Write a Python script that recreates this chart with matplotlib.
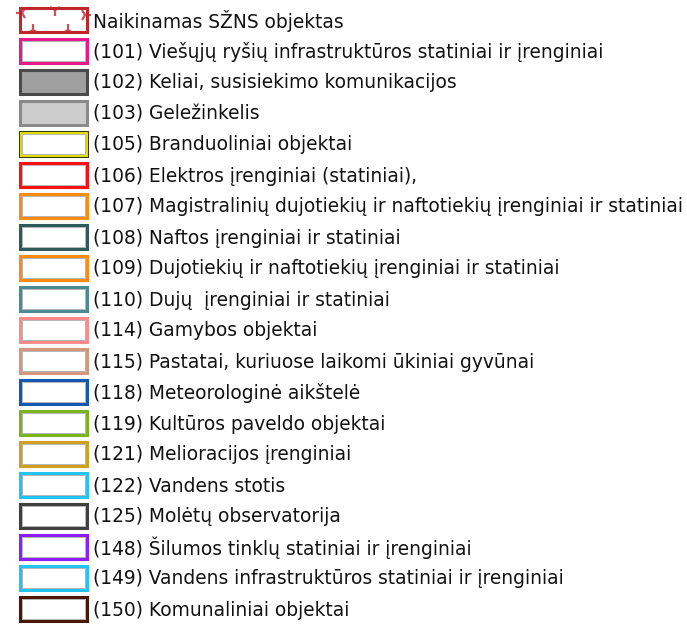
import matplotlib.pyplot as plt
from matplotlib.patches import Rectangle

# legend entries: label, edge colour, fill colour
labels = [
    "Naikinamas SŽNS objektas",
    "(101) Viešųjų ryšių infrastruktūros statiniai ir įrenginiai",
    "(102) Keliai, susisiekimo komunikacijos",
    "(103) Geležinkelis",
    "(105) Branduoliniai objektai",
    "(106) Elektros įrenginiai (statiniai),",
    "(107) Magistralinių dujotiekių ir naftotiekių įrenginiai ir statiniai",
    "(108) Naftos įrenginiai ir statiniai",
    "(109) Dujotiekių ir naftotiekių įrenginiai ir statiniai",
    "(110) Dujų  įrenginiai ir statiniai",
    "(114) Gamybos objektai",
    "(115) Pastatai, kuriuose laikomi ūkiniai gyvūnai",
    "(118) Meteorologinė aikštelė",
    "(119) Kultūros paveldo objektai",
    "(121) Melioracijos įrenginiai",
    "(122) Vandens stotis",
    "(125) Molėtų observatorija",
    "(148) Šilumos tinklų statiniai ir įrenginiai",
    "(149) Vandens infrastruktūros statiniai ir įrenginiai",
    "(150) Komunaliniai objektai",
]
edge_colors = [
    "#c0272d", "#e8198b", "#4a4a4a", "#8a8a8a", "#e0dc00", "#ff1010",
    "#ff8a10", "#2e5a5a", "#ff8a10", "#4a8a90", "#ff8a8a", "#d4967c",
    "#1458b0", "#7ab41e", "#d0a020", "#20c4f4", "#404040", "#8c1eff",
    "#20c4f4", "#4a1808",
]
fill_colors = ["white", "white", "#a0a0a0", "#cccccc"] + ["white"] * 16

fig = plt.figure(figsize=(6.87, 6.30), dpi=100)
ax = fig.add_axes([0, 0, 1, 1])
ax.set_xlim(0, 687)
ax.set_ylim(630, 0)
ax.axis("off")

x0, w, h = 20, 67, 24
y_first, step = 20, 31

for i, (lab, ec, fc) in enumerate(zip(labels, edge_colors, fill_colors)):
    yc = y_first + i * step
    if i == 4:
        ax.add_patch(Rectangle((x0 - 1.3, yc - h / 2 - 1.3), w + 2.6, h + 2.6,
                               facecolor="none", edgecolor="#303010",
                               linewidth=0.7, zorder=3))
    ax.add_patch(Rectangle((x0, yc - h / 2), w, h, facecolor=fc,
                           edgecolor=ec, linewidth=2.2, zorder=2))
    if fc == "white" and i > 0:
        # thin grey inner line like the source legend
        ax.add_patch(Rectangle((x0 + 2, yc - h / 2 + 2), w - 4, h - 4,
                               facecolor="none", edgecolor="#b4b4b4",
                               linewidth=0.7, zorder=3))
    ax.text(93, yc + 1, lab, fontsize=13.4, family="DejaVu Sans",
            va="center", ha="left", color="#111111")

# star-like marks on the first (destroyed object) symbol
yc = y_first
for mx, my, m in [(55, yc - h / 2 + 2, "1"), (33, yc + h / 2 - 2, "2"),
                  (68, yc + h / 2 - 2, "2"), (x0 + w - 2, yc - 5, "4"),
                  (x0 + 2, yc - 7, "3")]:
    ax.plot(mx, my, marker=m, color="#c0272d", markersize=9,
            markeredgewidth=1.6, alpha=0.8, zorder=4)

fig.savefig("out.png", dpi=100)
